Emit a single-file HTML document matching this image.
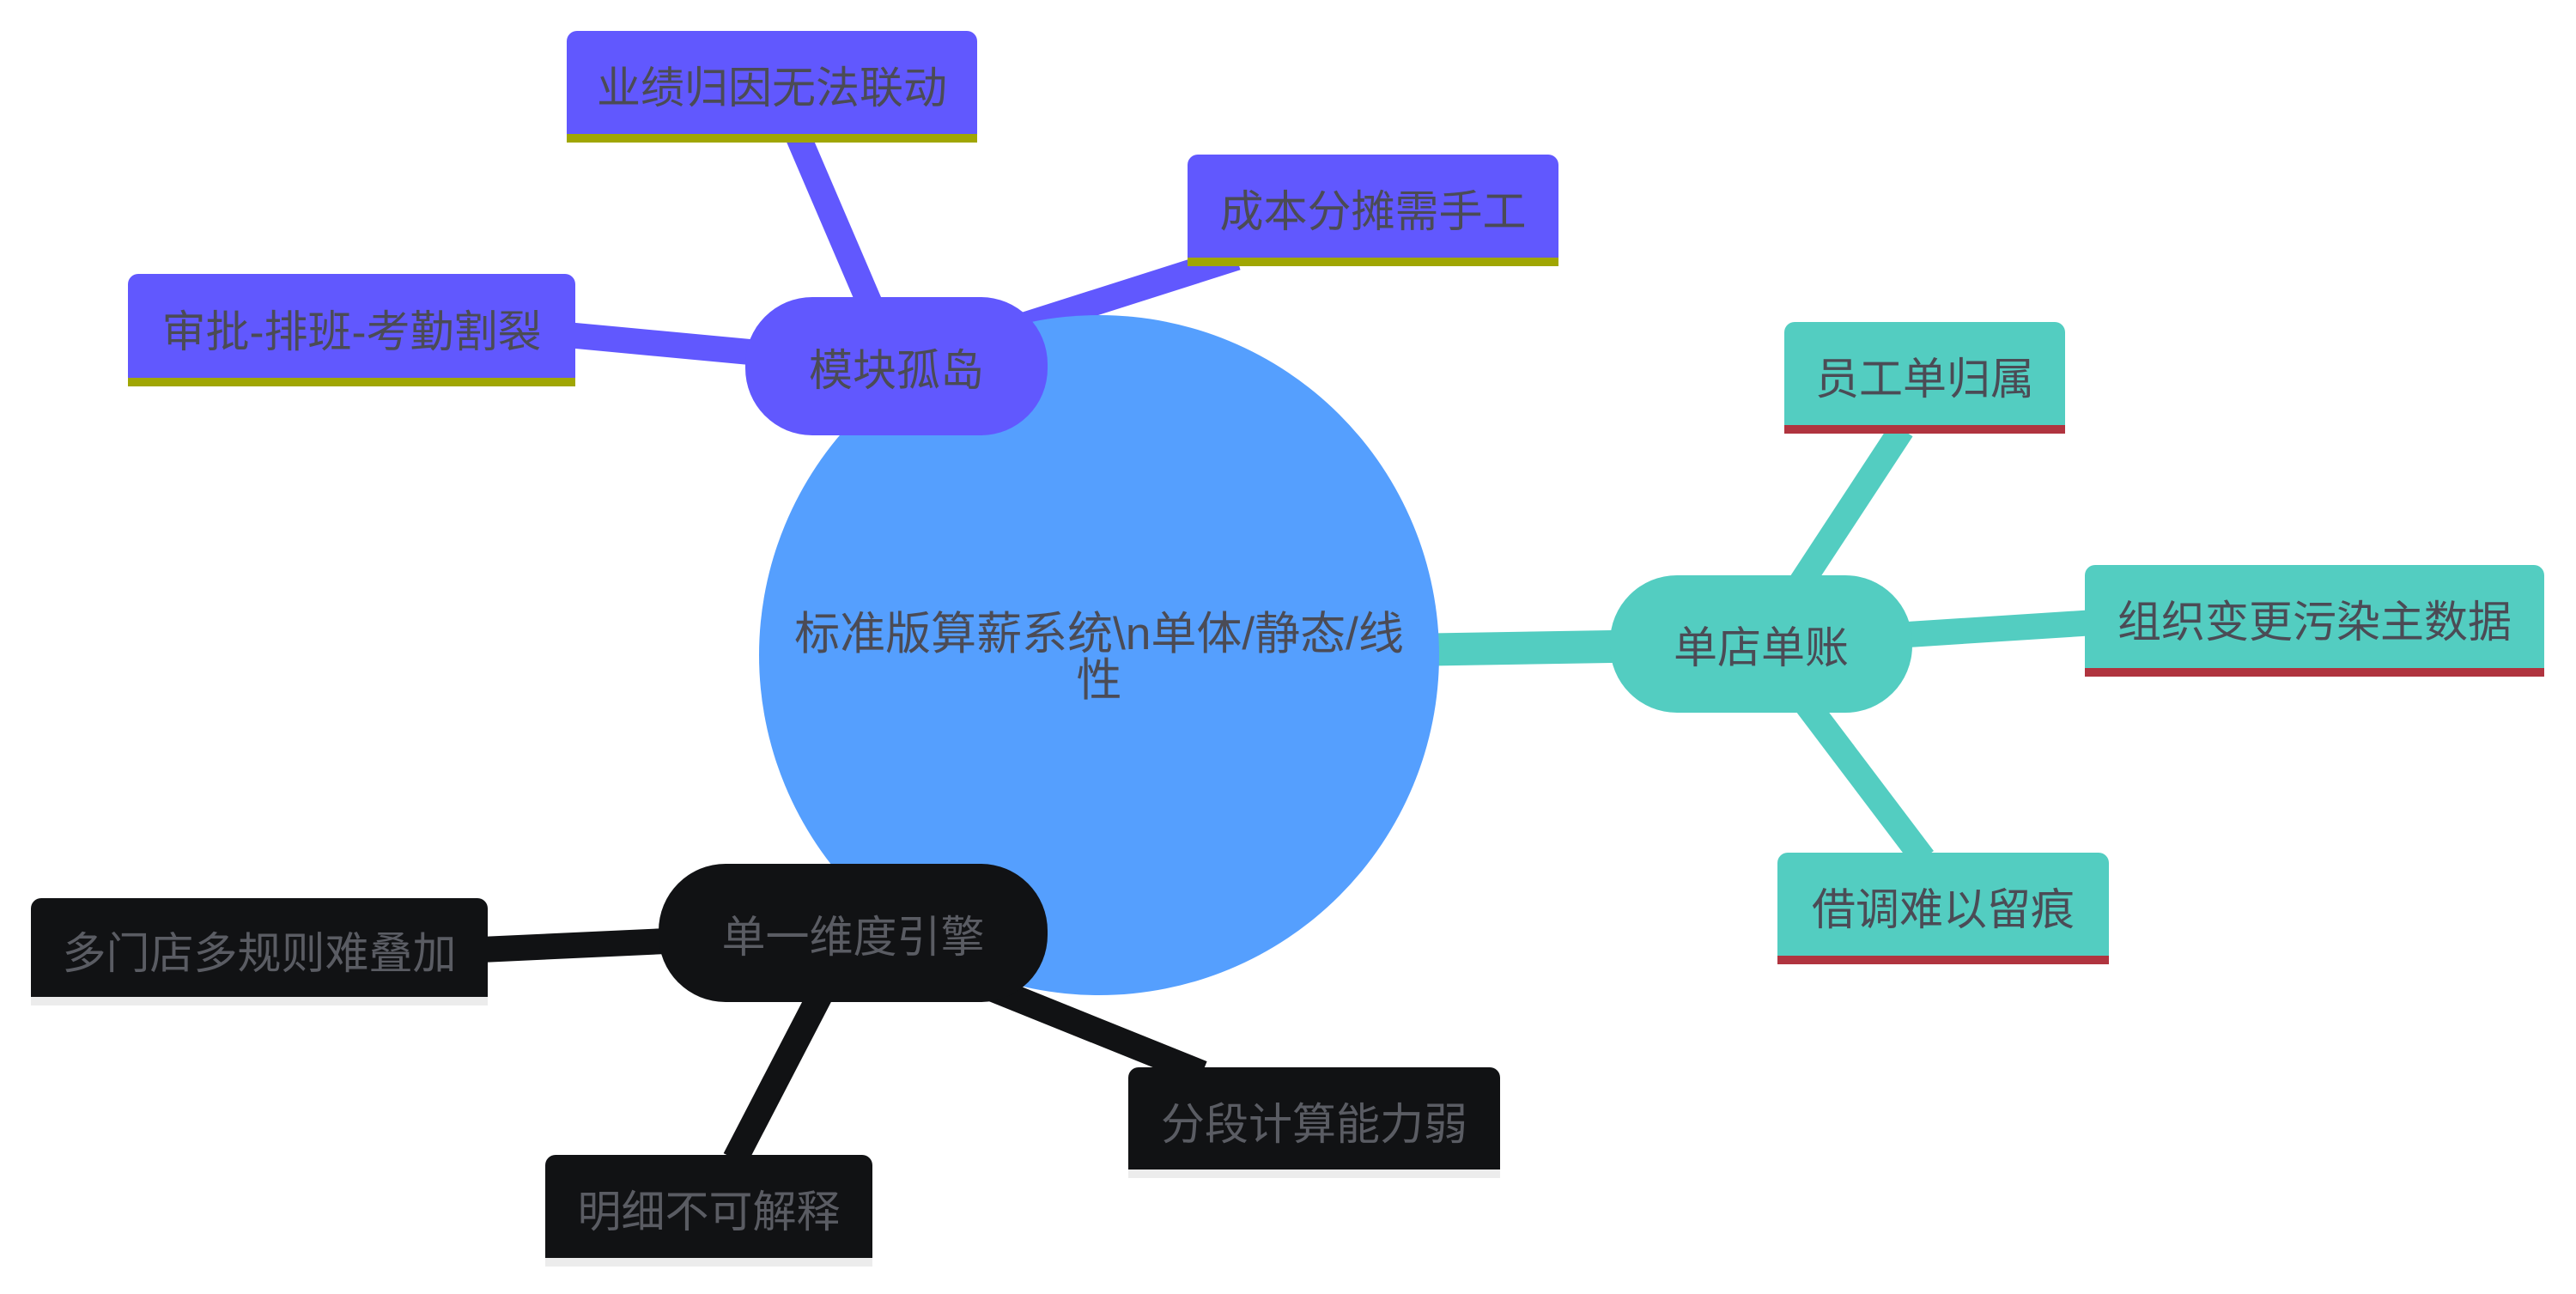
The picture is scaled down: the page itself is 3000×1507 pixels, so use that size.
<!DOCTYPE html>
<html><head><meta charset="utf-8"><style>
html,body{margin:0;padding:0;background:#fff;}
body{width:3000px;height:1507px;position:relative;overflow:hidden;font-family:"Liberation Sans","Noto Sans CJK SC",sans-serif;}
.n{position:absolute;display:flex;align-items:center;justify-content:center;box-sizing:border-box;color:#4b4b55;font-size:51px;white-space:nowrap;}
.leaf{border-radius:12px 12px 0 0;padding-top:4px;}
.p{background:#6158fe;}
.t{background:#53cdc1;}
.k{background:#111214;color:#5a5c63;}
.up{border-bottom:10px solid #a0a603;}
.ut{border-bottom:10px solid #b0343f;}
.uk{border-bottom:10px solid #ececec;}
.sec{border-radius:78px;font-size:51px;}
</style></head><body>
<svg width="3000" height="1507" style="position:absolute;left:0;top:0">
<g stroke-linecap="butt">
<line x1="1280" y1="763" x2="1044" y2="426" stroke="#6158fe" stroke-width="34"/>
<line x1="1280" y1="763" x2="2051" y2="750" stroke="#53cdc1" stroke-width="38"/>
<line x1="1280" y1="763" x2="993" y2="1086" stroke="#111214" stroke-width="38"/>
<line x1="1044" y1="426" x2="930" y2="160" stroke="#6158fe" stroke-width="30"/>
<line x1="1044" y1="426" x2="1440" y2="300" stroke="#6158fe" stroke-width="30"/>
<line x1="1044" y1="426" x2="660" y2="390" stroke="#6158fe" stroke-width="30"/>
<line x1="2051" y1="750" x2="2215" y2="500" stroke="#53cdc1" stroke-width="30"/>
<line x1="2051" y1="750" x2="2440" y2="725" stroke="#53cdc1" stroke-width="30"/>
<line x1="2051" y1="750" x2="2240" y2="1000" stroke="#53cdc1" stroke-width="30"/>
<line x1="993" y1="1086" x2="560" y2="1106" stroke="#111214" stroke-width="30"/>
<line x1="993" y1="1086" x2="1400" y2="1250" stroke="#111214" stroke-width="30"/>
<line x1="993" y1="1086" x2="856" y2="1350" stroke="#111214" stroke-width="30"/>
</g>
<circle cx="1280" cy="763" r="396" fill="#559ffe"/>
<text x="1280" y="756" font-size="53" fill="#4b4b55" text-anchor="middle" font-family="Liberation Sans, Noto Sans CJK SC, sans-serif">标准版算薪系统\n单体/静态/线</text>
<text x="1280" y="810" font-size="53" fill="#4b4b55" text-anchor="middle" font-family="Liberation Sans, Noto Sans CJK SC, sans-serif">性</text>
</svg>
<div class="n p sec" style="left:868px;top:346px;width:352px;height:161px">模块孤岛</div>
<div class="n p leaf up" style="left:660px;top:36px;width:478px;height:130px">业绩归因无法联动</div>
<div class="n p leaf up" style="left:1383px;top:180px;width:432px;height:130px">成本分摊需手工</div>
<div class="n p leaf up" style="left:149px;top:319px;width:521px;height:131px">审批-排班-考勤割裂</div>
<div class="n t sec" style="left:1875px;top:670px;width:352px;height:160px">单店单账</div>
<div class="n t leaf ut" style="left:2078px;top:375px;width:327px;height:130px">员工单归属</div>
<div class="n t leaf ut" style="left:2428px;top:658px;width:535px;height:130px">组织变更污染主数据</div>
<div class="n t leaf ut" style="left:2070px;top:993px;width:386px;height:130px">借调难以留痕</div>
<div class="n k sec" style="left:767px;top:1006px;width:453px;height:161px">单一维度引擎</div>
<div class="n k leaf uk" style="left:36px;top:1046px;width:532px;height:125px">多门店多规则难叠加</div>
<div class="n k leaf uk" style="left:1314px;top:1243px;width:433px;height:129px">分段计算能力弱</div>
<div class="n k leaf uk" style="left:635px;top:1345px;width:381px;height:130px">明细不可解释</div>
</body></html>
